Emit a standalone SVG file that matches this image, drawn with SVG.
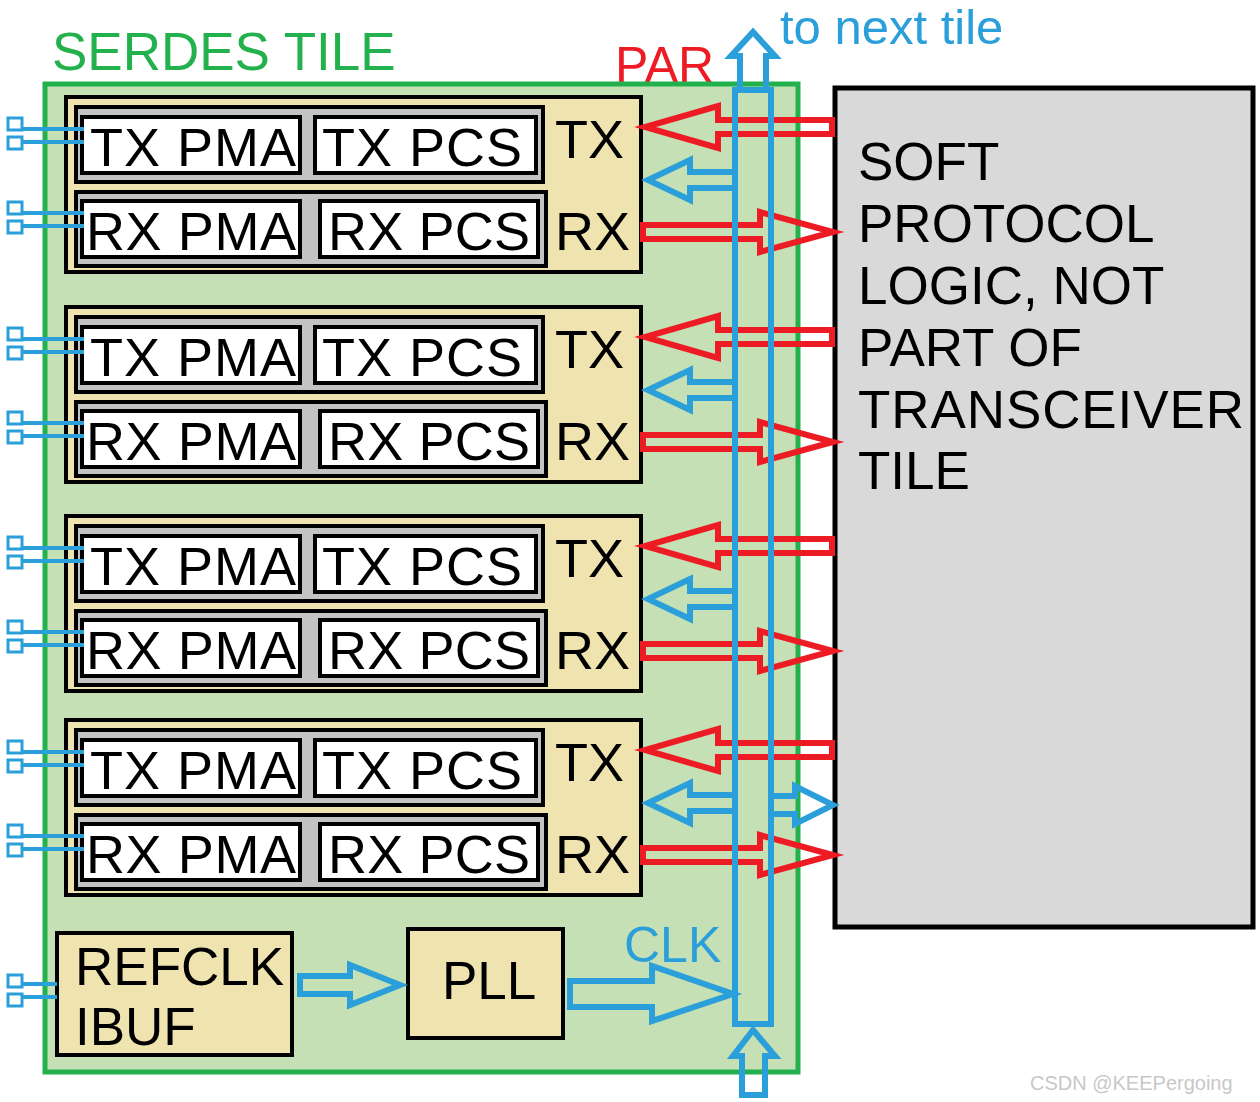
<svg xmlns="http://www.w3.org/2000/svg" xmlns:xlink="http://www.w3.org/1999/xlink" width="1260" height="1102" viewBox="0 0 1260 1102">
<style>
text{font-family:"Liberation Sans",Arial,sans-serif}
.big{font-size:53px;fill:#000}
.lt{font-size:54px;fill:#000}
.lane{fill:#efe4b0;stroke:#000;stroke-width:4}
.row{fill:#c3c3c3;stroke:#000;stroke-width:4}
.wb{fill:#fff;stroke:#000;stroke-width:4}
.blue{fill:none;stroke:#2b9fd9;stroke-width:6;stroke-linejoin:miter}
.red{fill:none;stroke:#ed1c24;stroke-width:6}
.pin{fill:#fff;stroke:#2b9fd9;stroke-width:3}
.pl{stroke:#2b9fd9;stroke-width:4}
</style>
<defs>
<g id="pins">
<line class="pl" x1="22" y1="129" x2="84" y2="129"/><line class="pl" x1="22" y1="142" x2="84" y2="142"/>
<rect class="pin" x="8" y="118" width="14" height="12"/><rect class="pin" x="8" y="137" width="14" height="12"/>
</g>
<g id="laneT">
<rect class="lane" x="66" y="97" width="575" height="175"/>
<rect class="row" x="76" y="107" width="467" height="75"/>
<rect class="row" x="76" y="192" width="470" height="74"/>
<rect class="wb" x="82" y="117" width="218" height="56"/>
<rect class="wb" x="315" y="117" width="221" height="56"/>
<rect class="wb" x="82" y="201" width="218" height="56"/>
<rect class="wb" x="320" y="201" width="218" height="56"/>
<text class="lt" x="90" y="166" textLength="206">TX PMA</text>
<text class="lt" x="322" y="166" textLength="200">TX PCS</text>
<text class="lt" x="86" y="250" textLength="210">RX PMA</text>
<text class="lt" x="328" y="250" textLength="202">RX PCS</text>
<text class="lt" x="555" y="158">TX</text>
<text class="lt" x="555" y="250">RX</text>
<use xlink:href="#pins"/>
<use xlink:href="#pins" y="84"/>
</g>
<g id="arrs">
<path class="red" d="M832,120 H718 V106 L645,127 L718,148 V134 H832 Z"/>
<path class="red" d="M643,225 H760 V212 L833,232 L760,252 V239 H643 Z"/>
<path class="blue" d="M735,172 H690 V160 L648,180 L690,200 V188 H735"/>
</g>
</defs>
<rect width="1260" height="1102" fill="#fff"/>
<text x="52" y="70" font-size="53" fill="#22b14c">SERDES TILE</text>
<text x="615" y="82" font-size="50" fill="#ed1c24">PAR</text>
<text x="780" y="44" font-size="49" fill="#2b9fd9">to next tile</text>
<g id="tile"><rect x="45" y="84" width="753" height="988" fill="#c5e0b4" stroke="#22b14c" stroke-width="5"/></g>
<g id="soft"><rect x="835" y="88" width="418" height="839" fill="#d9d9d9" stroke="#000" stroke-width="5"/>
<text class="big" x="858" y="180">SOFT</text><text class="big" x="858" y="242">PROTOCOL</text><text class="big" x="858" y="304">LOGIC, NOT</text><text class="big" x="858" y="366">PART OF</text><text class="big" x="858" y="428" textLength="386">TRANSCEIVER</text><text class="big" x="858" y="489">TILE</text></g>
<g id="lane1"><use xlink:href="#laneT"/></g>
<g id="lane2"><use xlink:href="#laneT" y="210"/></g>
<g id="lane3"><use xlink:href="#laneT" y="419"/></g>
<g id="lane4"><use xlink:href="#laneT" y="623"/></g>
<g id="refclk"><rect class="lane" x="57" y="933" width="235" height="122"/>
<text class="big" x="75" y="985">REFCLK</text><text class="big" x="75" y="1045">IBUF</text>
<line class="pl" x1="22" y1="984" x2="57" y2="984"/><line class="pl" x1="22" y1="997" x2="57" y2="997"/>
<rect class="pin" x="8" y="975" width="14" height="12"/><rect class="pin" x="8" y="994" width="14" height="12"/></g>
<g id="pll"><rect class="lane" x="408" y="929" width="155" height="109"/><text class="big" x="442" y="999">PLL</text></g>
<text x="624" y="962" font-size="50" fill="#2b9fd9">CLK</text>
<g id="connectors">
<use xlink:href="#arrs"/>
<use xlink:href="#arrs" y="210"/>
<use xlink:href="#arrs" y="419"/>
<use xlink:href="#arrs" y="623"/>
<path class="blue" d="M771,796 H795 V786 L833,805 L795,824 V814 H771"/>
<path class="blue" d="M735,1024 V90 H771 V1024 Z"/>
<path class="blue" d="M740,90 V56 H731 L753,32 L775,56 H766 V90"/>
<path class="blue" d="M742,1095 V1056 H733 L753,1030 L775,1056 H765 V1095 Z"/>
<path class="blue" d="M300,976 H350 V965 L400,985 L350,1005 V994 H300 Z"/>
<path class="blue" d="M570,981 H652 V966 L733,994 L652,1021 V1007 H570 Z"/>
</g>
<text x="1030" y="1090" font-size="20" fill="#c8c8c8">CSDN @KEEPergoing</text>
</svg>
